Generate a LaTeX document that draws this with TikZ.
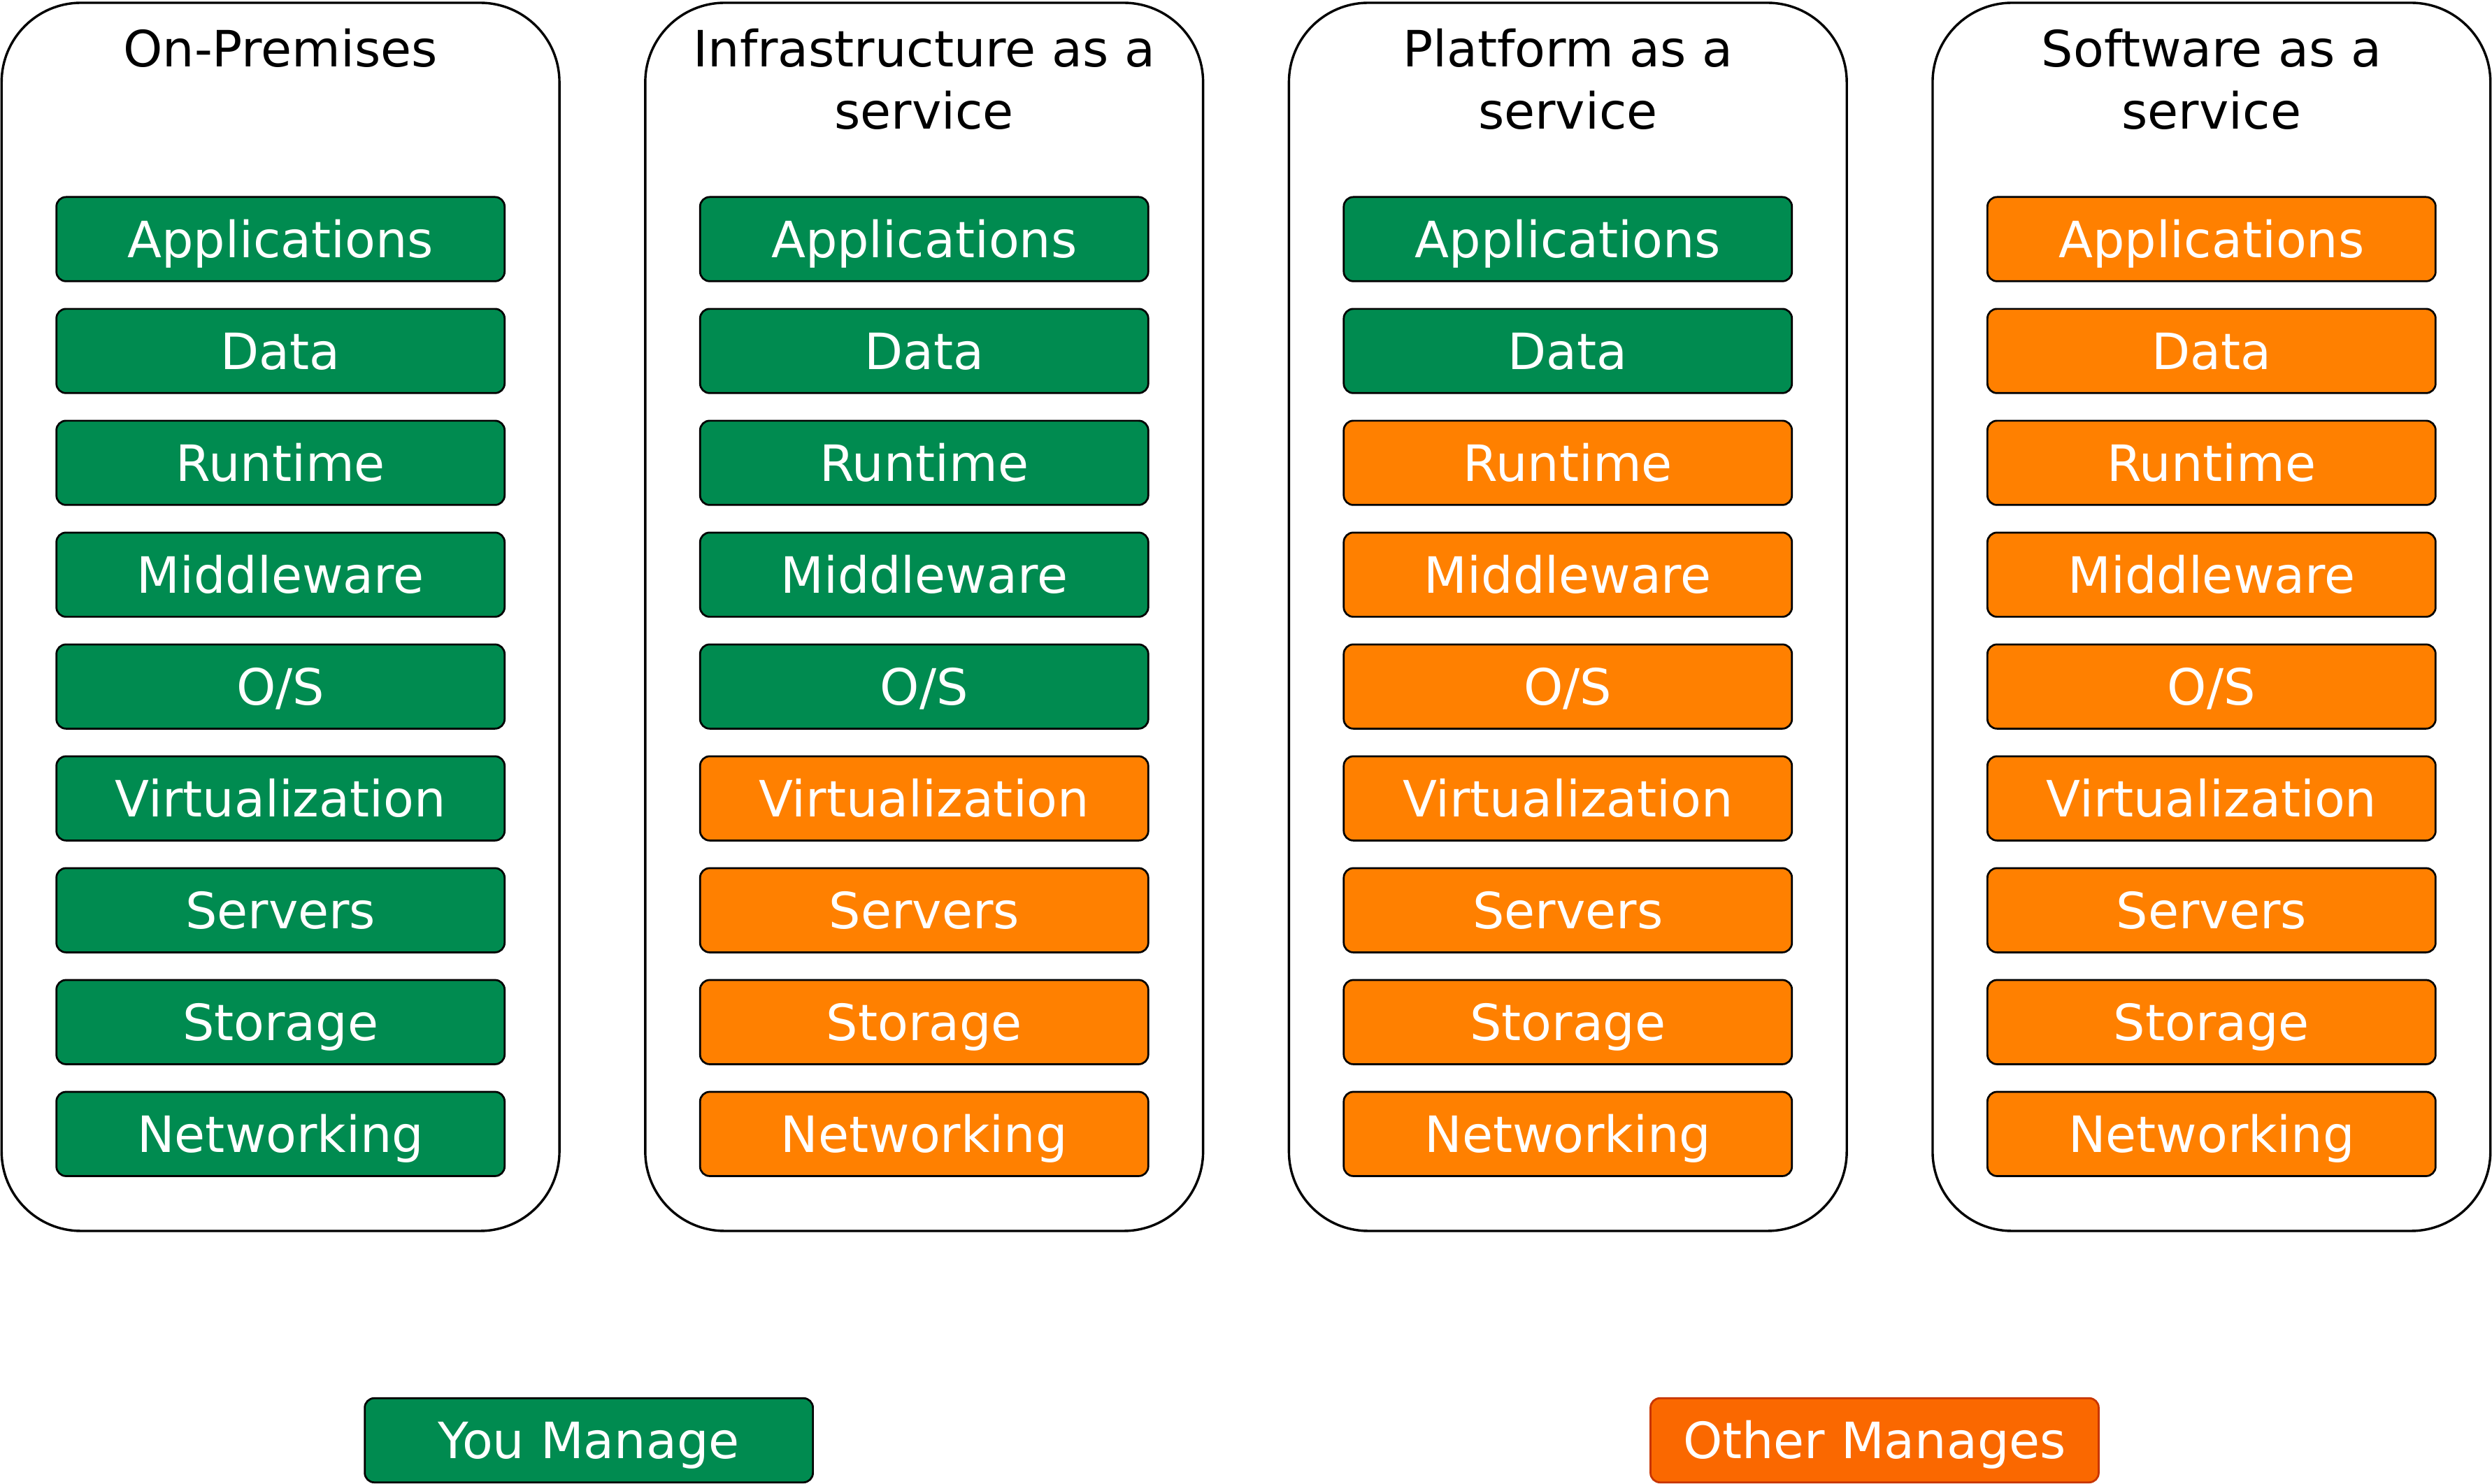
\documentclass[tikz,border=0pt]{standalone}
\usepackage{fontspec}
\setmainfont{DejaVu Sans}

\definecolor{youmanage}{RGB}{0,139,80}
\definecolor{othermanages}{RGB}{255,128,0}
\definecolor{legendorange}{RGB}{250,104,0}
\definecolor{legendborder}{RGB}{199,53,0}

\begin{document}
\begin{tikzpicture}[x=1pt,y=-1pt,
    every node/.style={font=\fontsize{31.5}{39}\selectfont},
    column/.style={draw,line width=1.5pt,rounded corners=50pt,minimum width=351pt,minimum height=773pt,anchor=north},
    title/.style={anchor=north,inner sep=0pt,align=center},
    layer/.style={draw,line width=1.2pt,rounded corners=6pt,minimum width=282pt,minimum height=53pt,inner sep=0pt,text=white,text height=23pt,text depth=0pt},
    you/.style={layer,fill=youmanage},
    other/.style={layer,fill=othermanages}]

      \useasboundingbox (0,0) rectangle (1568,934);

      % the four stacks
      \foreach \col/\cx/\own in {onprem/176.5/9, iaas/581.5/5, paas/986.5/2, saas/1391.5/0} {
        \node[column] (\col) at (\cx,1) {};
        \foreach \name [count=\k] in {Applications,Data,Runtime,Middleware,O/S,Virtualization,Servers,Storage,Networking} {
          \ifnum\k>\own
            \node[other] (\col-\k) at (\cx,{150.5+70.4*(\k-1)}) {\name};
          \else
            \node[you] (\col-\k) at (\cx,{150.5+70.4*(\k-1)}) {\name};
          \fi
        }
      }

      \node[title] (onprem-title) at (176.5,18) {On-Premises};
      \node[title] (iaas-title)   at (581.5,18) {Infrastructure as a\\service};
      \node[title] (paas-title)   at (986.5,18) {Platform as a\\service};
      \node[title] (saas-title)   at (1391.5,18) {Software as a\\service};

      % legend
      \node[you] (legend-you) at (370.5,906.5) {You Manage};
      \node[layer,fill=legendorange,draw=legendborder] (legend-other) at (1179.5,906.5) {Other Manages};

    \end{tikzpicture}
\end{document}
